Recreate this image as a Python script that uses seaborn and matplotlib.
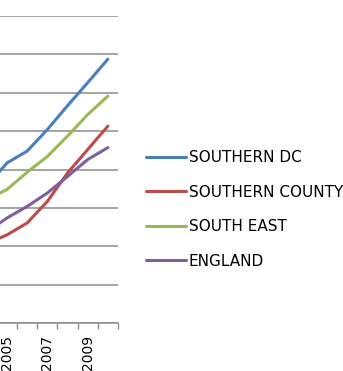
import matplotlib
matplotlib.use("Agg")
import matplotlib.pyplot as plt
import seaborn as sns
import pandas as pd

# Annual index values per area
years = [2004, 2005, 2006, 2007, 2008, 2009, 2010]
southern_dc = [3.57, 4.17, 4.48, 5.04, 5.66, 6.26, 6.87]
southern_county = [2.07, 2.30, 2.61, 3.17, 3.91, 4.52, 5.13]
south_east = [3.22, 3.48, 3.93, 4.34, 4.87, 5.43, 5.91]
england = [2.37, 2.74, 3.04, 3.39, 3.82, 4.26, 4.57]

series_names = ["SOUTHERN DC", "SOUTHERN COUNTY", "SOUTH EAST", "ENGLAND"]
series_values = [southern_dc, southern_county, south_east, england]
series_colors = ["#4A7EBB", "#BE4B48", "#98B954", "#7D60A0"]

labelled_years = [2005, 2007, 2009]
y_gridlines = [0, 1, 2, 3, 4, 5, 6, 7, 8]

rows = []
for name, vals in zip(series_names, series_values):
    for yr, v in zip(years, vals):
        rows.append({"year": yr, "value": v, "area": name})
df = pd.DataFrame(rows)

sns.set_theme(style="white")
plt.rcParams["font.family"] = ["DejaVu Sans"]
plt.rcParams["text.color"] = "black"
plt.rcParams["xtick.color"] = "black"

W, H = 343, 371
fig = plt.figure(figsize=(W / 100, H / 100), dpi=100)
fig.patch.set_facecolor("white")

px_per_year = 20.18
x_right_px = 118.0
x_left_px = x_right_px - 7 * px_per_year
y_axis_px = 323.3
y_top_px = 15.7
ax = fig.add_axes([x_left_px / W, (H - y_axis_px) / H,
                   (x_right_px - x_left_px) / W, (y_axis_px - y_top_px) / H])

sns.lineplot(data=df, x="year", y="value", hue="area", hue_order=series_names,
             palette=series_colors, linewidth=2.2, ax=ax, legend=False)

ax.set_xlim(2003.5, 2010.5)
ax.set_ylim(0, 8)
ax.set_yticks(y_gridlines)
ax.set_yticklabels([])
ax.tick_params(axis="y", length=0)
ax.yaxis.grid(True, color="#8C8C8C", linewidth=1.1)
ax.xaxis.grid(False)
ax.set_axisbelow(True)

ax.set_xticks(labelled_years)
ax.set_xticklabels([str(y) for y in labelled_years], rotation=90, fontsize=10,
                   color="black")
ax.set_xticks([y + 0.5 for y in years], minor=True)
ax.tick_params(axis="x", which="major", length=0, pad=8.4, labelcolor="black")
ax.tick_params(axis="x", which="minor", length=4.5, width=1.0, color="#8C8C8C",
               bottom=True)
ax.set_xlabel("")
ax.set_ylabel("")

for side in ["top", "right", "left"]:
    ax.spines[side].set_visible(False)
ax.spines["bottom"].set_color("#8C8C8C")
ax.spines["bottom"].set_linewidth(1.1)

handles = [plt.Line2D([], [], color=c, linewidth=2.2) for c in series_colors]
leg = fig.legend(handles, series_names, loc="center left",
                 bbox_to_anchor=(146 / W, (H - 209.5) / H), frameon=False,
                 fontsize=11, handlelength=2.6, handletextpad=0.2,
                 labelspacing=1.27, borderpad=0, borderaxespad=0)
for t in leg.get_texts():
    t.set_color("black")

fig.savefig("out.png", dpi=100)
